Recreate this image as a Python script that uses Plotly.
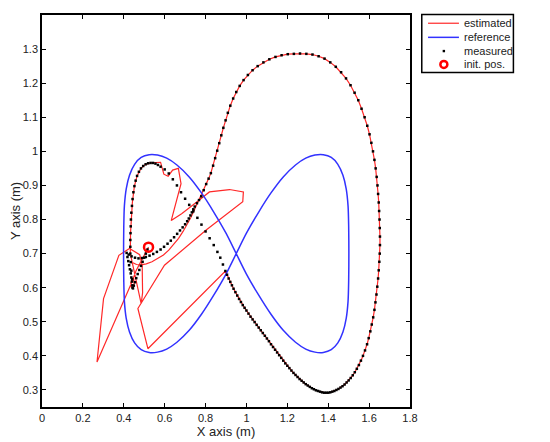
import plotly.graph_objects as go

# reference trajectory (figure eight)
ref_x = [0.950, 1.000, 1.060, 1.120, 1.180, 1.240, 1.290, 1.335, 1.376, 1.415, 1.447, 1.472, 1.488, 1.497, 1.500,
         1.501, 1.500, 1.497, 1.488, 1.472, 1.447, 1.415, 1.376, 1.335, 1.290, 1.240, 1.180, 1.120, 1.060, 1.000,
         0.950, 0.900, 0.840, 0.780, 0.720, 0.660, 0.610, 0.565, 0.524, 0.485, 0.453, 0.428, 0.412, 0.403, 0.400,
         0.399, 0.400, 0.403, 0.412, 0.428, 0.453, 0.485, 0.524, 0.565, 0.610, 0.660, 0.720, 0.780, 0.840, 0.900,
         0.950]
ref_y = [0.700, 0.760, 0.822, 0.878, 0.925, 0.960, 0.980, 0.989, 0.990, 0.982, 0.962, 0.930, 0.890, 0.840, 0.780,
         0.700, 0.620, 0.560, 0.510, 0.470, 0.438, 0.418, 0.410, 0.411, 0.420, 0.440, 0.475, 0.522, 0.578, 0.640,
         0.700, 0.760, 0.822, 0.878, 0.925, 0.960, 0.980, 0.989, 0.990, 0.982, 0.962, 0.930, 0.890, 0.840, 0.780,
         0.700, 0.620, 0.560, 0.510, 0.470, 0.438, 0.418, 0.410, 0.411, 0.420, 0.440, 0.475, 0.522, 0.578, 0.640,
         0.700]

# big outer loop, where measured and estimated coincide
loop_x = [0.897, 0.905, 0.913, 0.921, 0.929, 0.937, 0.946, 0.955, 0.964, 0.973, 0.982, 0.991, 1.000, 1.010, 1.020,
          1.030, 1.040, 1.050, 1.060, 1.070, 1.080, 1.090, 1.100, 1.110, 1.120, 1.130, 1.140, 1.150, 1.160, 1.170,
          1.180, 1.190, 1.200, 1.210, 1.220, 1.230, 1.240, 1.250, 1.260, 1.270, 1.280, 1.290, 1.300, 1.310, 1.320,
          1.330, 1.340, 1.350, 1.360, 1.370, 1.380, 1.390, 1.400, 1.410, 1.420, 1.430, 1.440, 1.450, 1.460, 1.470,
          1.480, 1.490, 1.500, 1.510, 1.520, 1.530, 1.540, 1.550, 1.560, 1.570, 1.580, 1.590, 1.598, 1.606, 1.613,
          1.620, 1.626, 1.631, 1.636, 1.640, 1.644, 1.647, 1.650, 1.652, 1.653, 1.653, 1.652, 1.651, 1.649, 1.647,
          1.644, 1.641, 1.637, 1.632, 1.626, 1.619, 1.611, 1.602, 1.591, 1.578, 1.563, 1.547, 1.529, 1.509, 1.487,
          1.463, 1.437, 1.410, 1.382, 1.353, 1.323, 1.293, 1.262, 1.232, 1.202, 1.172, 1.142, 1.112, 1.083, 1.055,
          1.030, 1.007, 0.986, 0.967, 0.950, 0.935, 0.921, 0.909, 0.898, 0.887, 0.877, 0.867, 0.857, 0.847, 0.837,
          0.826, 0.815, 0.803, 0.791, 0.779]
loop_y = [0.649, 0.638, 0.627, 0.617, 0.607, 0.597, 0.587, 0.577, 0.567, 0.558, 0.549, 0.541, 0.533, 0.524, 0.515,
          0.507, 0.499, 0.491, 0.483, 0.475, 0.467, 0.459, 0.451, 0.443, 0.434, 0.426, 0.418, 0.410, 0.402, 0.394,
          0.386, 0.378, 0.371, 0.364, 0.357, 0.350, 0.344, 0.338, 0.332, 0.327, 0.322, 0.317, 0.313, 0.309, 0.305,
          0.302, 0.299, 0.297, 0.295, 0.293, 0.292, 0.292, 0.292, 0.293, 0.295, 0.297, 0.300, 0.303, 0.307, 0.311,
          0.316, 0.322, 0.328, 0.335, 0.343, 0.352, 0.362, 0.373, 0.386, 0.400, 0.416, 0.434, 0.452, 0.472, 0.492,
          0.513, 0.535, 0.557, 0.580, 0.603, 0.627, 0.651, 0.676, 0.700, 0.725, 0.750, 0.775, 0.800, 0.825, 0.850,
          0.875, 0.900, 0.925, 0.950, 0.975, 1.000, 1.025, 1.050, 1.075, 1.100, 1.125, 1.150, 1.172, 1.194, 1.214,
          1.232, 1.248, 1.261, 1.272, 1.279, 1.284, 1.286, 1.287, 1.286, 1.285, 1.282, 1.277, 1.270, 1.261, 1.250,
          1.238, 1.224, 1.209, 1.192, 1.174, 1.155, 1.134, 1.113, 1.091, 1.069, 1.047, 1.024, 1.002, 0.980, 0.958,
          0.936, 0.920, 0.904, 0.886, 0.868]

# measured positions before the loop (start, left arc, diagonal)
meas_in_x = [0.516, 0.508, 0.500, 0.492, 0.484, 0.476, 0.468, 0.461, 0.455, 0.449, 0.445, 0.441, 0.437, 0.434,
             0.432, 0.432, 0.432, 0.433, 0.434, 0.435, 0.437, 0.440, 0.443, 0.447, 0.452, 0.458, 0.465, 0.474,
             0.484, 0.495, 0.507, 0.519, 0.531, 0.543, 0.555, 0.567, 0.580, 0.600, 0.620, 0.640, 0.660, 0.680,
             0.700, 0.720, 0.740, 0.760, 0.780, 0.800, 0.820, 0.840, 0.858, 0.872, 0.885]
meas_in_y = [0.712, 0.700, 0.688, 0.676, 0.664, 0.652, 0.640, 0.628, 0.616, 0.606, 0.598, 0.625, 0.650, 0.675,
             0.700, 0.720, 0.740, 0.760, 0.780, 0.800, 0.820, 0.840, 0.860, 0.880, 0.898, 0.914, 0.928, 0.940,
             0.950, 0.957, 0.962, 0.965, 0.966, 0.966, 0.964, 0.960, 0.955, 0.947, 0.935, 0.918, 0.900, 0.880,
             0.861, 0.843, 0.824, 0.805, 0.785, 0.765, 0.745, 0.725, 0.705, 0.688, 0.668]

# measured positions after the loop (return towards the start)
meas_out_x = [0.768, 0.758, 0.747, 0.740, 0.733, 0.726, 0.718, 0.710, 0.700, 0.688, 0.675, 0.661, 0.646, 0.630,
              0.614, 0.597, 0.580, 0.562, 0.544, 0.526, 0.508, 0.490, 0.472, 0.455, 0.438, 0.424, 0.414, 0.418,
              0.422, 0.426, 0.430, 0.434, 0.437, 0.440, 0.442, 0.443]
meas_out_y = [0.857, 0.848, 0.838, 0.830, 0.821, 0.812, 0.803, 0.795, 0.786, 0.777, 0.768, 0.758, 0.748, 0.738,
              0.729, 0.720, 0.712, 0.705, 0.699, 0.694, 0.690, 0.687, 0.686, 0.688, 0.692, 0.697, 0.702, 0.690,
              0.678, 0.666, 0.654, 0.642, 0.630, 0.618, 0.607, 0.600]

# estimated positions before and after the loop
est_in_x = [0.521, 0.500, 0.478, 0.460, 0.448, 0.440, 0.434, 0.437, 0.445, 0.451, 0.448, 0.269, 0.301, 0.376,
            0.428, 0.478, 0.490, 0.492, 0.485, 0.466, 0.448, 0.432, 0.433, 0.436, 0.442, 0.452, 0.465, 0.484,
            0.507, 0.531, 0.556, 0.580, 0.596, 0.617, 0.639, 0.667, 0.680, 0.660, 0.632, 0.683, 0.747, 0.771,
            0.819, 0.917, 0.985, 0.982, 0.803, 0.599, 0.469, 0.518]
est_in_y = [0.719, 0.695, 0.672, 0.650, 0.630, 0.624, 0.614, 0.602, 0.600, 0.612, 0.628, 0.382, 0.568, 0.695,
            0.715, 0.697, 0.665, 0.585, 0.553, 0.605, 0.650, 0.700, 0.760, 0.810, 0.850, 0.898, 0.928, 0.950,
            0.962, 0.966, 0.966, 0.968, 0.933, 0.927, 0.945, 0.950, 0.905, 0.861, 0.797, 0.817, 0.845, 0.858,
            0.881, 0.888, 0.881, 0.852, 0.769, 0.666, 0.539, 0.421]
est_out_x = [0.762, 0.745, 0.728, 0.710, 0.690, 0.668, 0.645, 0.620, 0.594, 0.566, 0.538, 0.510, 0.485, 0.462,
             0.445]
est_out_y = [0.850, 0.828, 0.806, 0.785, 0.765, 0.745, 0.727, 0.710, 0.696, 0.685, 0.676, 0.670, 0.667, 0.668,
             0.673]

init_x = [0.521]
init_y = [0.719]

x_ticks = [0, 0.2, 0.4, 0.6, 0.8, 1, 1.2, 1.4, 1.6, 1.8]
y_ticks = [0.3, 0.4, 0.5, 0.6, 0.7, 0.8, 0.9, 1, 1.1, 1.2, 1.3]
legend_names = ['estimated', 'reference', 'measured', 'init. pos.']

est_x = est_in_x + loop_x + est_out_x
est_y = est_in_y + loop_y + est_out_y
meas_x = meas_in_x + loop_x + meas_out_x
meas_y = meas_in_y + loop_y + meas_out_y

RED = 'rgb(255,40,40)'
BLUE = 'rgb(50,50,255)'

fig = go.Figure()
fig.add_trace(go.Scatter(x=est_x, y=est_y, mode='lines', name=legend_names[0],
                         line=dict(color=RED, width=1.2)))
fig.add_trace(go.Scatter(x=ref_x, y=ref_y, mode='lines', name=legend_names[1],
                         line=dict(color=BLUE, width=1.5, shape='spline', smoothing=0.8)))
fig.add_trace(go.Scatter(x=meas_x, y=meas_y, mode='markers', name=legend_names[2],
                         marker=dict(color='black', size=2.5, symbol='square')))
fig.add_trace(go.Scatter(x=init_x, y=init_y, mode='markers', name=legend_names[3],
                         marker=dict(color='red', size=9, symbol='circle-open', line=dict(width=2.5, color='red'))))

# compact MATLAB-like legend box (plotly's own legend rows are too tall)
row_y = [0.979, 0.943, 0.908, 0.874]
shapes = [dict(type='rect', xref='paper', yref='paper', x0=1.032, x1=1.281, y0=0.853, y1=1.001,
               line=dict(color='black', width=1.5), fillcolor='white')]
shapes.append(dict(type='line', xref='paper', yref='paper', x0=1.049, x1=1.133, y0=row_y[0], y1=row_y[0],
                   line=dict(color=RED, width=1.2)))
shapes.append(dict(type='line', xref='paper', yref='paper', x0=1.049, x1=1.133, y0=row_y[1], y1=row_y[1],
                   line=dict(color=BLUE, width=1.5)))
shapes.append(dict(type='rect', xref='paper', yref='paper', xsizemode='pixel', ysizemode='pixel',
                   xanchor=1.092, yanchor=row_y[2], x0=-1.2, x1=1.2, y0=-1.2, y1=1.2,
                   line=dict(width=0), fillcolor='black'))
shapes.append(dict(type='circle', xref='paper', yref='paper', xsizemode='pixel', ysizemode='pixel',
                   xanchor=1.092, yanchor=row_y[3], x0=-3.5, x1=3.5, y0=-3.5, y1=3.5,
                   line=dict(color='red', width=2.5)))
annotations = [dict(text=name, xref='paper', yref='paper', x=1.142, y=yy, xanchor='left', yanchor='middle',
                    showarrow=False, font=dict(size=11, color='#222'))
               for name, yy in zip(legend_names, row_y)]

axis_style = dict(showline=True, linecolor='black', linewidth=1.5, mirror='ticks', ticks='inside', ticklen=4,
                  tickcolor='black', showgrid=False, zeroline=False, automargin=False,
                  tickfont=dict(size=11, color='#222'))
fig.update_xaxes(range=[0, 1.8], tickvals=x_ticks, title=dict(text='X axis (m)', standoff=2), **axis_style)
fig.update_yaxes(range=[0.25, 1.40], tickvals=y_ticks, title=dict(text='Y axis (m)', standoff=4), **axis_style)
# the page body adds an 8px offset, so the figure is sized to fit inside the window
fig.update_layout(
    width=542, height=434,
    margin=dict(l=34, r=140, t=7, b=35),
    plot_bgcolor='white', paper_bgcolor='white',
    font=dict(family='Liberation Sans, Arial, sans-serif', size=11, color='#222'),
    showlegend=False,
    shapes=shapes,
    annotations=annotations,
)
fig.write_html("out.html")
